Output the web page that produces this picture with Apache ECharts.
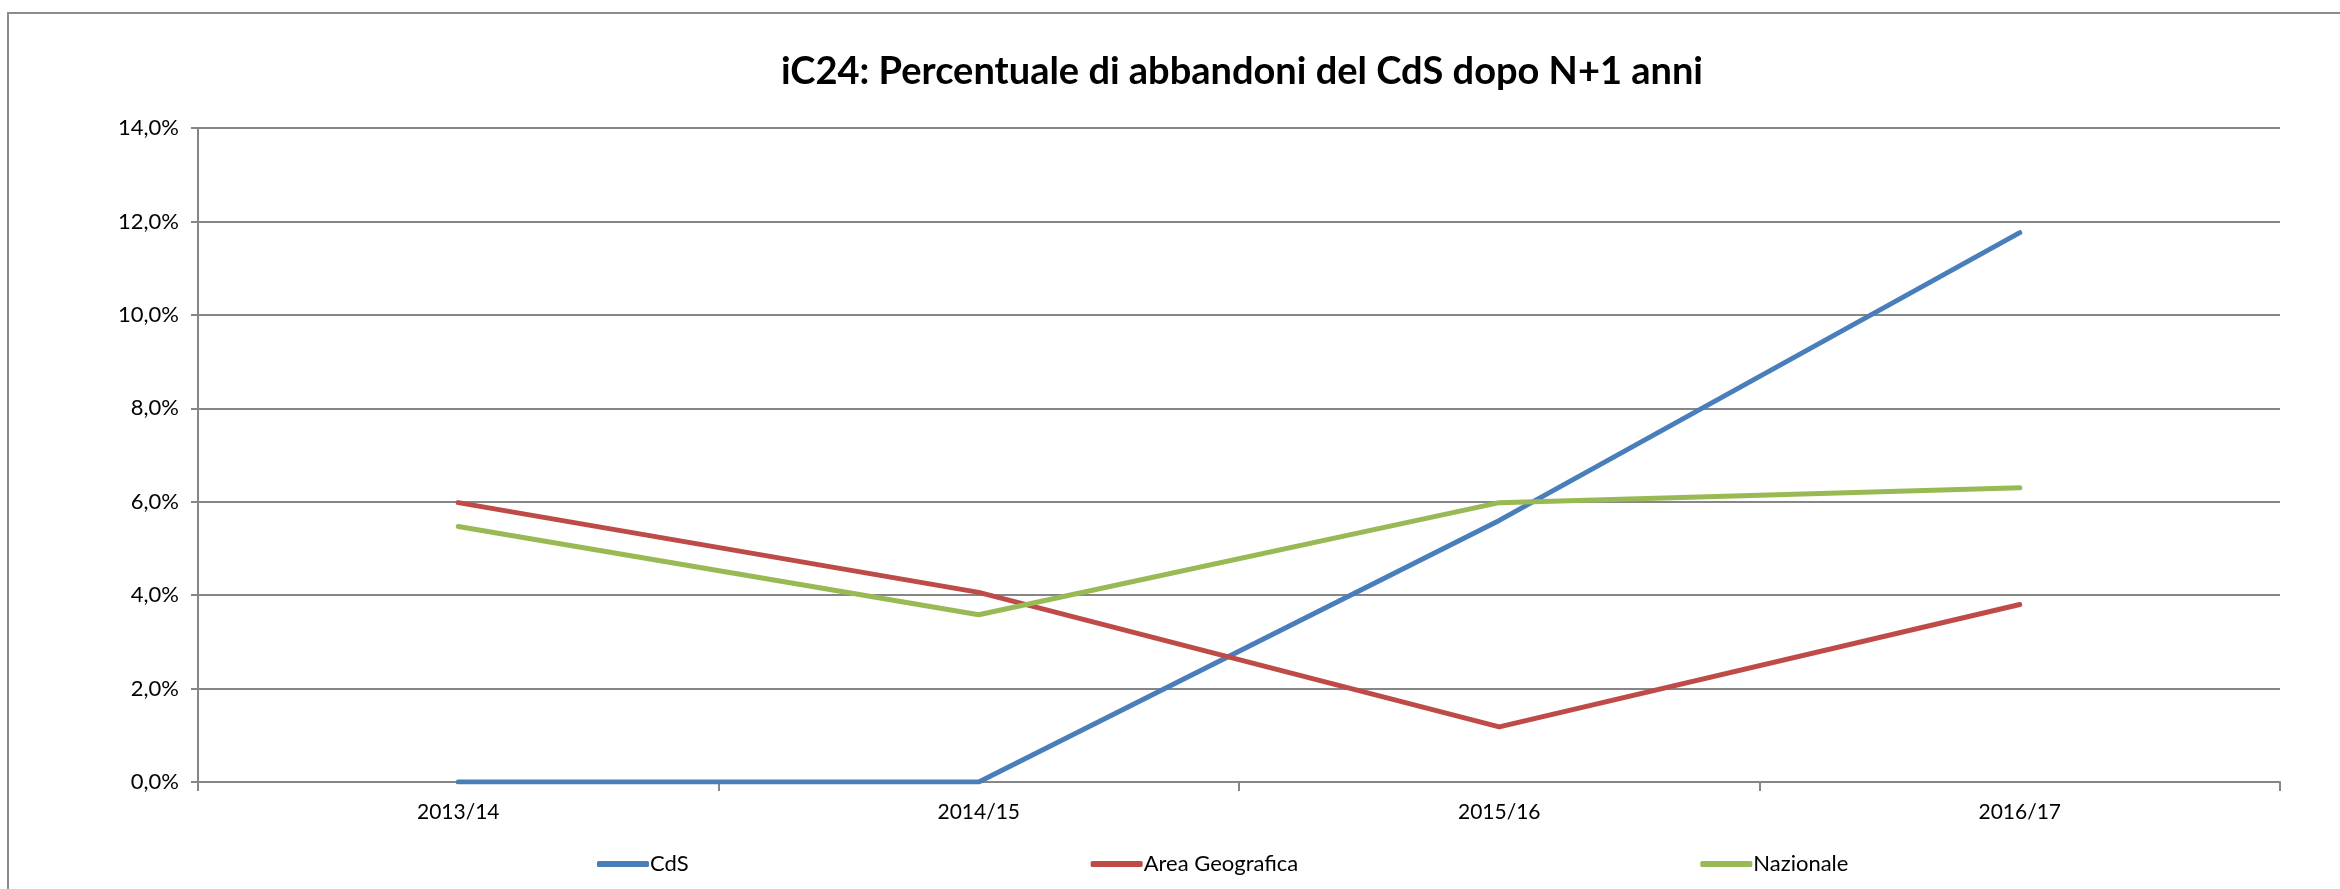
<!DOCTYPE html>
<html>
<head>
<meta charset="utf-8">
<script src="https://cdn.jsdelivr.net/npm/echarts@6/dist/echarts.min.js"></script>
<style>
  html, body { margin: 0; padding: 0; background: #fff; }
  #chart { width: 2340px; height: 889px; }
</style>
</head>
<body>
<div id="chart"></div>
<script>
  // dati (valori in %)
  const anni = ['2013/14', '2014/15', '2015/16', '2016/17']
  const cds = [0, 0, 5.6, 11.76]
  const areaGeografica = [5.98, 4.06, 1.18, 3.8]
  const nazionale = [5.47, 3.58, 5.98, 6.3]
  const yTicks = { min: 0, max: 14, step: 2 }

  const grigio = '#868686'
  const font = 'Lato, "Open Sans", sans-serif'

  const myChart = echarts.init(document.getElementById('chart'))

  const lineSeries = (name, data, color) => ({
    name: name,
    type: 'line',
    data: data,
    symbol: 'none',
    smooth: false,
    color: color,
    lineStyle: { width: 5, color: color, cap: 'round', join: 'round' },
    emphasis: { disabled: true }
  })

  const option = {
    animation: false,
    backgroundColor: '#fff',
    graphic: [{
      type: 'rect',
      shape: { x: 8, y: 13, width: 2500, height: 1000 },
      style: { fill: 'none', stroke: '#8c8c8c', lineWidth: 2 },
      silent: true
    }],
    title: {
      text: 'iC24: Percentuale di abbandoni del CdS dopo N+1 anni',
      left: 776,
      top: 48,
      textStyle: { fontFamily: font, fontWeight: 'bold', fontSize: 38, color: '#000' }
    },
    grid: { left: 198, right: 60, top: 128, bottom: 107 },
    legend: {
      data: ['CdS', 'Area Geografica', 'Nazionale'],
      left: 592,
      top: 848,
      icon: 'roundRect',
      itemWidth: 52,
      itemHeight: 6,
      itemGap: 402,
      textStyle: { fontFamily: font, fontSize: 22, color: '#000', padding: [0, 0, 0, -4] }
    },
    xAxis: {
      type: 'category',
      data: anni,
      boundaryGap: true,
      axisLine: { lineStyle: { color: grigio, width: 2 } },
      axisTick: { show: true, length: 9, interval: 0, lineStyle: { color: grigio, width: 2 } },
      axisLabel: { fontFamily: font, fontSize: 21, color: '#000', margin: 20 },
      splitLine: { show: false }
    },
    yAxis: {
      type: 'value',
      min: yTicks.min,
      max: yTicks.max,
      interval: yTicks.step,
      axisLine: { show: true, lineStyle: { color: grigio, width: 2 } },
      axisTick: { show: true, length: 7, lineStyle: { color: grigio, width: 2 } },
      axisLabel: {
        fontFamily: font, fontSize: 22, color: '#000', margin: 19,
        formatter: v => v.toFixed(1).replace('.', ',') + '%'
      },
      splitLine: { show: true, lineStyle: { color: grigio, width: 2 } }
    },
    series: [
      lineSeries('CdS', cds, '#4a7ebb'),
      lineSeries('Area Geografica', areaGeografica, '#be4b48'),
      lineSeries('Nazionale', nazionale, '#98b954')
    ]
  }
  myChart.setOption(option)
</script>
</body>
</html>
